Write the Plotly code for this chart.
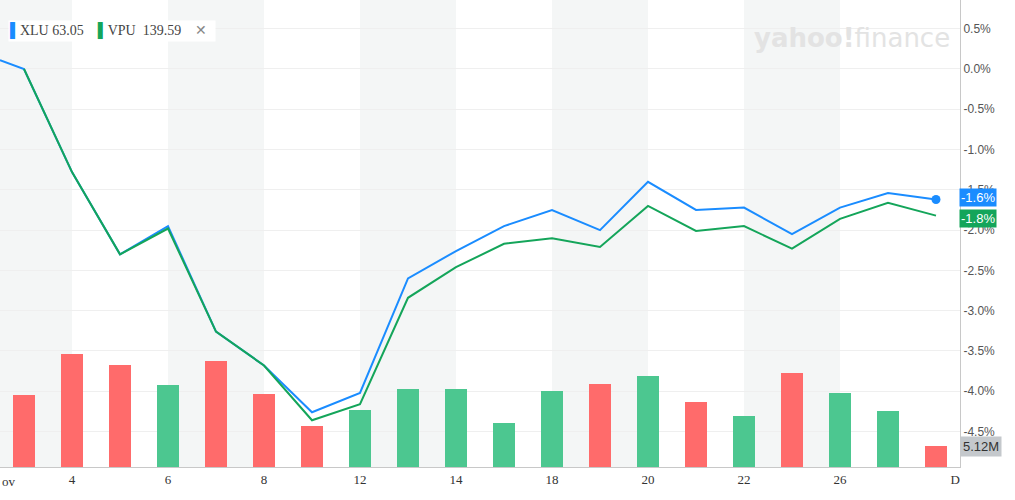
import plotly.graph_objects as go

xlu_x = [-0.5] + list(range(20))
xlu = [0.11, 0.0, -1.28, -2.3, -1.95, -3.26, -3.68, -4.26, -4.02, -2.6, -2.26, -1.95, -1.75, -2.0, -1.4, -1.75, -1.72, -2.05, -1.72, -1.54, -1.62]
vpu_x = list(range(20))
vpu = [0.0, -1.28, -2.3, -1.98, -3.26, -3.68, -4.36, -4.16, -2.84, -2.46, -2.17, -2.1, -2.21, -1.7, -2.01, -1.95, -2.23, -1.86, -1.66, -1.82]
vol = [17.5, 27.5, 24.9, 20.0, 25.9, 17.8, 10.0, 13.9, 19.0, 19.0, 10.7, 18.5, 20.2, 22.2, 15.8, 12.4, 22.9, 18.0, 13.7, 5.12]
vol_up = [0, 0, 0, 1, 0, 0, 0, 1, 1, 1, 1, 1, 0, 1, 0, 1, 0, 1, 1, 0]
tick_pos = [1, 3, 5, 7, 9, 11, 13, 15, 17, 19.4]
tick_txt = ["4", "6", "8", "12", "14", "18", "20", "22", "26", "D"]
y_ticks = [0.5, 0.0, -0.5, -1.0, -1.5, -2.0, -2.5, -3.0, -3.5, -4.0, -4.5]

BLUE = "#1a8cff"
GREEN = "#14a55a"
fig = go.Figure()
fig.add_trace(go.Bar(x=vpu_x, y=vol, yaxis="y2", width=0.46,
                     marker=dict(color=["#4cc790" if u else "#ff6b6b" for u in vol_up], line_width=0)))
fig.add_trace(go.Scatter(x=xlu_x, y=xlu, mode="lines", line=dict(color=BLUE, width=2)))
fig.add_trace(go.Scatter(x=vpu_x, y=vpu, mode="lines", line=dict(color=GREEN, width=2)))
fig.add_trace(go.Scatter(x=[xlu_x[-1]], y=[xlu[-1]], mode="markers", marker=dict(color=BLUE, size=9)))

shapes = []
for a, b in [(-0.5, 1), (3, 5), (7, 9), (11, 13), (15, 17)]:
    shapes.append(dict(type="rect", xref="x", yref="paper", x0=a, x1=b, y0=0, y1=1,
                       fillcolor="#f4f6f6", line_width=0, layer="below"))

ann = [
    dict(x=0.888, y=0.955, xref="paper", yref="paper", text="<b>yahoo!</b>finance", showarrow=False,
         font=dict(size=26, color="#e3e3e3", family="DejaVu Sans"), xanchor="center"),
    dict(x=1.0, y=xlu[-1] + 0.02, xref="paper", yref="y", text="-1.6%", showarrow=False, xanchor="left",
         xshift=-1, bgcolor=BLUE, font=dict(color="white", size=13, family="Arial"), borderpad=1),
    dict(x=1.0, y=vpu[-1] - 0.03, xref="paper", yref="y", text="-1.8%", showarrow=False, xanchor="left",
         xshift=-1, bgcolor=GREEN, font=dict(color="white", size=13, family="Arial"), borderpad=1),
    dict(x=1.0, y=vol[-1], xref="paper", yref="y2", text="5.12M", showarrow=False, xanchor="left",
         bgcolor="#c4c8cc", font=dict(color="#333", size=13, family="Arial"), borderpad=2),
    dict(x=0, y=-0.03, xref="paper", yref="paper", text="ov", showarrow=False, xanchor="left", yanchor="middle",
         font=dict(family="Liberation Serif", size=13, color="#333")),
    dict(x=0.008, y=0.957, xref="paper", yref="paper", showarrow=False, xanchor="left",
         text="<span style='color:%s'>▌</span>XLU 63.05    <span style='color:%s'>▌</span>VPU  139.59    <span style='color:#888'>✕</span>  " % (BLUE, GREEN),
         bgcolor="white", font=dict(family="Liberation Serif", size=14, color="#444")),
]

fig.update_layout(
    width=1015, height=500, margin=dict(l=0, r=55, t=0, b=33, autoexpand=False),
    plot_bgcolor="white", paper_bgcolor="white", showlegend=False, bargap=0,
    shapes=shapes, annotations=ann,
    xaxis=dict(range=[-0.5, 19.5], tickvals=tick_pos, ticktext=tick_txt, showgrid=False, zeroline=False,
               showline=True, linecolor="#c8c8c8", ticks="", tickfont=dict(family="Liberation Serif", size=13, color="#333")),
    yaxis=dict(range=[-4.94, 0.856], side="right", tickvals=y_ticks,
               ticktext=["%.1f%%" % v for v in y_ticks], gridcolor="#efefef", zeroline=False,
               showline=True, linecolor="#c8c8c8", tickfont=dict(family="Arial", size=12, color="#555")),
    yaxis2=dict(range=[0, 114], overlaying="y", visible=False),
)
fig.write_html("out.html", config={"displayModeBar": False},
               post_script="document.body.style.margin='0';")
